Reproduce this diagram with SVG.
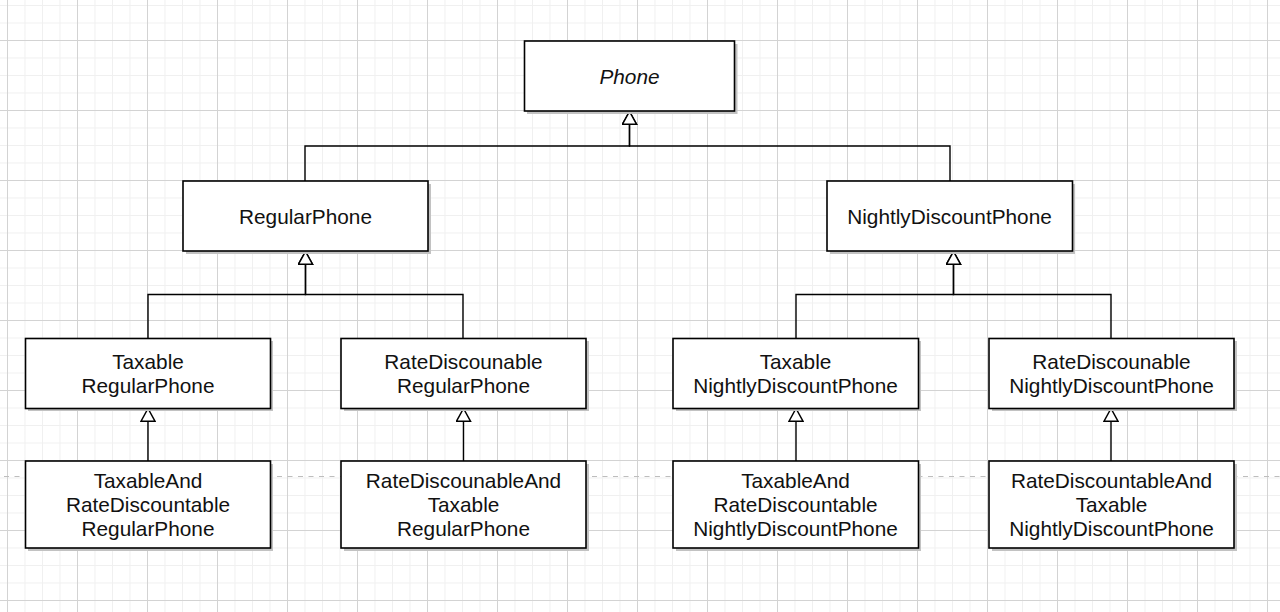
<svg xmlns="http://www.w3.org/2000/svg" width="1280" height="612" viewBox="0 0 1280 612">
<defs>
<pattern id="minor" patternUnits="userSpaceOnUse" x="7" y="5" width="17.5" height="17.5">
<path d="M0.5 0 V17.5 M0 0.5 H17.5" stroke="#f0f0f0" stroke-width="1" fill="none"/>
</pattern>
<pattern id="major" patternUnits="userSpaceOnUse" x="7" y="40" width="70" height="70">
<path d="M0.5 0 V70 M0 0.5 H70" stroke="#d3d3d3" stroke-width="1" fill="none"/>
</pattern>
<marker id="tri" markerUnits="userSpaceOnUse" markerWidth="16" markerHeight="16" refX="13.5" refY="8" orient="auto" viewBox="0 0 16 16">
<path d="M0.75 1 L13.5 8 L0.75 15 Z" fill="#ffffff" stroke="#000000" stroke-width="1.5"/>
</marker>
<style>
.shadow{fill:#c2c2c2;}
.box{fill:#ffffff;stroke:#000000;stroke-width:1.6;}
.lbl{font-family:"Liberation Sans",Arial,Helvetica,sans-serif;font-size:20.8px;fill:#111111;text-anchor:middle;}
.edge{fill:none;stroke:#000000;stroke-width:1.4;marker-end:url(#tri);}
</style>
</defs>
<rect x="0" y="0" width="1280" height="612" fill="#ffffff"/>
<rect x="0" y="0" width="1280" height="612" fill="url(#minor)"/>
<rect x="0" y="0" width="1280" height="612" fill="url(#major)"/>
<line x1="4" y1="476.5" x2="1280" y2="476.5" stroke="#bdbdbd" stroke-width="1" stroke-dasharray="5 5.5"/>

<g id="connectors">
<path class="edge" d="M305 181 V146 H629.5 V111.5"/>
<path class="edge" d="M950 181 V146 H629.5 V111.5"/>
<path class="edge" d="M148 338 V294.5 H305.5 V251.5"/>
<path class="edge" d="M463 338 V294.5 H305.5 V251.5"/>
<path class="edge" d="M796 338 V294.5 H953.5 V251.5"/>
<path class="edge" d="M1111 338 V294.5 H953.5 V251.5"/>
<path class="edge" d="M148 461 V408.5"/>
<path class="edge" d="M463.5 461 V408.5"/>
<path class="edge" d="M796 461 V408.5"/>
<path class="edge" d="M1111 461 V408.5"/>
</g>

<g id="phone">
<rect class="shadow" x="527" y="44" width="210.5" height="70"/>
<rect class="box" x="524.5" y="41" width="210" height="70"/>
<text class="lbl" x="629.5" y="84" font-style="italic">Phone</text>
</g>

<g id="regularphone">
<rect class="shadow" x="186" y="184" width="245" height="70"/>
<rect class="box" x="183" y="181" width="245" height="70"/>
<text class="lbl" x="305.5" y="224">RegularPhone</text>
</g>

<g id="nightlydiscountphone">
<rect class="shadow" x="830" y="184" width="245" height="70"/>
<rect class="box" x="827" y="181" width="245.5" height="70"/>
<text class="lbl" x="949.5" y="224">NightlyDiscountPhone</text>
</g>

<g id="taxable-regularphone">
<rect class="shadow" x="28" y="341" width="245" height="70"/>
<rect class="box" x="25.5" y="338.5" width="245" height="70"/>
<text class="lbl" x="148" y="368.5">Taxable</text>
<text class="lbl" x="148" y="393">RegularPhone</text>
</g>

<g id="ratediscounable-regularphone">
<rect class="shadow" x="344" y="341" width="245" height="70"/>
<rect class="box" x="341" y="338.5" width="245" height="70"/>
<text class="lbl" x="463.5" y="368.5">RateDiscounable</text>
<text class="lbl" x="463.5" y="393">RegularPhone</text>
</g>

<g id="taxable-nightlydiscountphone">
<rect class="shadow" x="676" y="341" width="245" height="70"/>
<rect class="box" x="673" y="338.5" width="245.5" height="70"/>
<text class="lbl" x="795.5" y="368.5">Taxable</text>
<text class="lbl" x="795.5" y="393">NightlyDiscountPhone</text>
</g>

<g id="ratediscounable-nightlydiscountphone">
<rect class="shadow" x="992" y="341" width="245" height="70"/>
<rect class="box" x="989" y="338.5" width="245" height="70"/>
<text class="lbl" x="1111.5" y="368.5">RateDiscounable</text>
<text class="lbl" x="1111.5" y="393">NightlyDiscountPhone</text>
</g>

<g id="taxableand-ratediscountable-regularphone">
<rect class="shadow" x="28" y="464" width="245" height="87"/>
<rect class="box" x="25.5" y="461" width="245" height="87"/>
<text class="lbl" x="148" y="487.5">TaxableAnd</text>
<text class="lbl" x="148" y="511.5">RateDiscountable</text>
<text class="lbl" x="148" y="535.5">RegularPhone</text>
</g>

<g id="ratediscounableand-taxable-regularphone">
<rect class="shadow" x="344" y="464" width="245" height="87"/>
<rect class="box" x="341" y="461" width="245" height="87"/>
<text class="lbl" x="463.5" y="487.5">RateDiscounableAnd</text>
<text class="lbl" x="463.5" y="511.5">Taxable</text>
<text class="lbl" x="463.5" y="535.5">RegularPhone</text>
</g>

<g id="taxableand-ratediscountable-nightlydiscountphone">
<rect class="shadow" x="676" y="464" width="245" height="87"/>
<rect class="box" x="673" y="461" width="245.5" height="87"/>
<text class="lbl" x="795.5" y="487.5">TaxableAnd</text>
<text class="lbl" x="795.5" y="511.5">RateDiscountable</text>
<text class="lbl" x="795.5" y="535.5">NightlyDiscountPhone</text>
</g>

<g id="ratediscountableand-taxable-nightlydiscountphone">
<rect class="shadow" x="992" y="464" width="245" height="87"/>
<rect class="box" x="989" y="461" width="245" height="87"/>
<text class="lbl" x="1111.5" y="487.5">RateDiscountableAnd</text>
<text class="lbl" x="1111.5" y="511.5">Taxable</text>
<text class="lbl" x="1111.5" y="535.5">NightlyDiscountPhone</text>
</g>
</svg>
